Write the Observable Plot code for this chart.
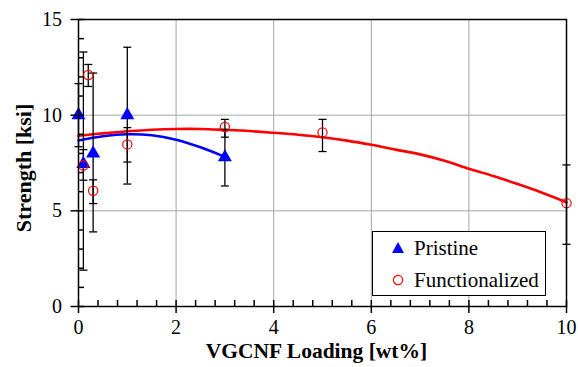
<!DOCTYPE html>
<html>
<head>
<meta charset="utf-8">
<script src="https://cdn.jsdelivr.net/npm/d3@7"></script>
<script src="https://cdn.jsdelivr.net/npm/@observablehq/plot@0.6"></script>
<style>
  html, body { margin: 0; padding: 0; background: white; }
  #wrap { position: relative; width: 578px; height: 367px; }
  #legend {
    position: absolute; left: 372px; top: 231px; width: 172px; height: 63px;
    border: 1px solid black; background: white;
    font-family: "Liberation Serif", "Times New Roman", serif; font-size: 21px; color: black;
  }
  #legend .row { position: absolute; left: 0; height: 30px; line-height: 30px; white-space: nowrap; }
  #legend svg { position: absolute; left: 17px; top: 7px; }
  #legend span { position: absolute; left: 41px; top: 0; }
</style>
</head>
<body>
<div id="wrap"></div>
<script>
// ---- data ----
const pristineX = [0, 0.1, 0.3, 1, 3];
const pristineY = [10.0, 7.45, 8.0, 10.0, 7.8];
const pristineLo = [8.35, 1.9, 3.9, 6.4, 6.3];
const pristineHi = [11.65, 13.3, 12.2, 13.55, 9.25];

const funcX = [0.1, 0.2, 0.3, 1, 3, 5, 10];
const funcY = [7.37, 12.1, 6.05, 8.47, 9.38, 9.1, 5.4];
const funcLo = [6.6, 11.5, 5.38, 7.55, 8.85, 8.1, 3.25];
const funcHi = [8.2, 12.65, 6.62, 9.35, 9.78, 9.78, 7.4];

// fitted trend lines
const pristineFitX = [0, 0.5, 1.0, 1.5, 2.0, 2.5, 3.0];
const pristineFitY = [8.68, 8.9, 9.0, 8.95, 8.72, 8.32, 7.82];
const funcFitX = [0, 0.5, 1, 1.5, 2, 2.5, 3, 3.5, 4, 4.5, 5, 5.5, 6, 6.5, 7, 7.5, 8, 8.5, 9, 9.5, 10];
const funcFitY = [8.92, 9.05, 9.16, 9.24, 9.28, 9.28, 9.23, 9.17, 9.08, 8.98, 8.85, 8.67, 8.45, 8.2, 7.95, 7.62, 7.2, 6.82, 6.4, 5.95, 5.45];

const xMajor = [0, 2, 4, 6, 8, 10];
const xMinor = d3.range(0, 10.001, 0.4).map(v => +v.toFixed(2));
const yMajor = [0, 5, 10, 15];
const yMinor = d3.range(0, 15.001, 1);
const xGrid = [2, 4, 6, 8];
const yGrid = [5, 10];

const xTitle = "VGCNF Loading [wt%]";
const yTitle = "Strength [ksi]";
const seriesNames = ["Pristine", "Functionalized"];

// ---- tables ----
const pristine = pristineX.map((x, i) => ({x, y: pristineY[i], lo: pristineLo[i], hi: pristineHi[i]}));
const func = funcX.map((x, i) => ({x, y: funcY[i], lo: funcLo[i], hi: funcHi[i]}));
const errs = pristine.concat(func);
const pristineFit = pristineFitX.map((x, i) => ({x, y: pristineFitY[i]}));
const funcFit = funcFitX.map((x, i) => ({x, y: funcFitY[i]}));

const capSymbol = { draw(ctx) { ctx.moveTo(-4, 0); ctx.lineTo(4, 0); } };
const serif = "'Liberation Serif', 'Times New Roman', serif";

const chart = Plot.plot({
  width: 578, height: 367,
  marginLeft: 78, marginRight: 12, marginTop: 19, marginBottom: 61,
  x: {domain: [0, 10]},
  y: {domain: [0, 15]},
  style: {fontFamily: serif, fontSize: "20px", color: "black", background: "white", overflow: "visible"},
  marks: [
    Plot.gridX(xGrid, {stroke: "#a6a6a6", strokeOpacity: 1, strokeWidth: 1}),
    Plot.gridY(yGrid, {stroke: "#a6a6a6", strokeOpacity: 1, strokeWidth: 1}),
    Plot.line(pristineFit, {x: "x", y: "y", stroke: "#0000ff", strokeWidth: 2.6, curve: "catmull-rom"}),
    Plot.line(funcFit, {x: "x", y: "y", stroke: "#ff0000", strokeWidth: 2.6, curve: "catmull-rom"}),
    Plot.ruleX(errs, {x: "x", y1: "lo", y2: "hi", stroke: "black", strokeWidth: 1.3}),
    Plot.dot(errs, {x: "x", y: "lo", symbol: capSymbol, stroke: "black", strokeWidth: 1.3, r: 4}),
    Plot.dot(errs, {x: "x", y: "hi", symbol: capSymbol, stroke: "black", strokeWidth: 1.3, r: 4}),
    Plot.dot(pristine, {x: "x", y: "y", symbol: "triangle", fill: "#0000ff", stroke: "none", r: 5.2}),
    Plot.dot(func, {x: "x", y: "y", symbol: "circle", fill: "none", stroke: "#ff0000", strokeWidth: 1.2, r: 4.6}),
    Plot.frame({stroke: "black", strokeWidth: 1.5}),
    Plot.axisX(xMinor, {anchor: "bottom", tickSize: -6, tickFormat: () => "", label: null, strokeWidth: 1.5}),
    Plot.axisX(xMajor, {anchor: "bottom", tickSize: 7, tickPadding: 6, label: null, strokeWidth: 1.5, fontSize: 20}),
    Plot.axisY(yMinor, {anchor: "left", tickSize: -6, tickFormat: () => "", label: null, strokeWidth: 1.5}),
    Plot.axisY(yMajor, {anchor: "left", tickSize: 7.5, tickPadding: 9, label: null, strokeWidth: 1.5, fontSize: 20}),
    Plot.text([xTitle], {frameAnchor: "bottom", dy: 51, dx: -6, text: d => d, fontWeight: "bold", fontSize: 21.5}),
    Plot.text([yTitle], {frameAnchor: "left", textAnchor: "middle", dx: -55, dy: 5, rotate: -90, text: d => d, fontWeight: "bold", fontSize: 22})
  ]
});
document.getElementById("wrap").appendChild(chart);

// legend
const legend = document.createElement("div");
legend.id = "legend";
legend.innerHTML = `
  <div class="row" style="top:1px"><svg width="16" height="16"><path d="M8,2 L14,13 L2,13 Z" fill="#0000ff"/></svg><span>${seriesNames[0]}</span></div>
  <div class="row" style="top:33px"><svg width="16" height="16"><circle cx="8" cy="8" r="4.6" fill="none" stroke="#ff0000" stroke-width="1.2"/></svg><span>${seriesNames[1]}</span></div>`;
document.getElementById("wrap").appendChild(legend);
</script>
</body>
</html>
